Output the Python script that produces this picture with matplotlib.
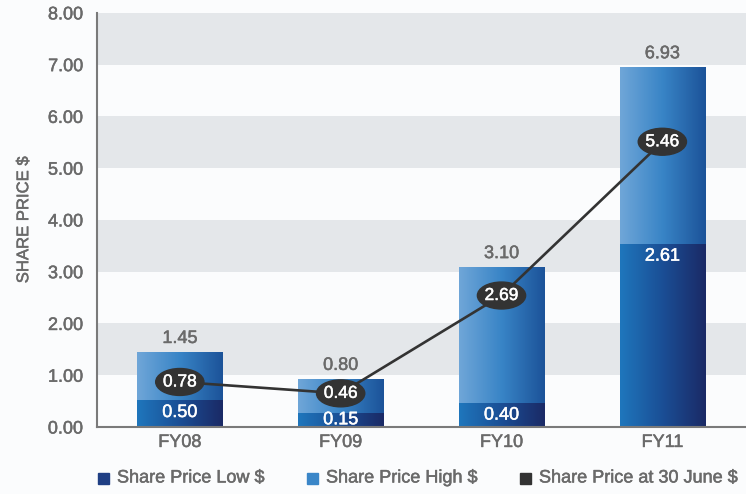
import numpy as np
import matplotlib
matplotlib.use("Agg")
import matplotlib.pyplot as plt
import matplotlib.patheffects as pe
from matplotlib.patches import Ellipse, Rectangle
from matplotlib.colors import LinearSegmentedColormap

plt.rcParams['font.family'] = ['Liberation Sans', 'DejaVu Sans']

# data
years = ["FY08", "FY09", "FY10", "FY11"]
price_low = [0.50, 0.15, 0.40, 2.61]
price_high = [1.45, 0.80, 3.10, 6.93]
price_june = [0.78, 0.46, 2.69, 5.46]
# where the original actually draws things (not quite the labelled values)
low_band = [0.52, 0.28, 0.46, 3.54]
bar_top = [1.45, 0.93, 3.09, 6.95]
june_pos = [0.87, 0.65, 2.54, 5.51]
legend_labels = ["Share Price Low $", "Share Price High $", "Share Price at 30 June $"]

grey_txt = "#6a6a6a"
band_col = "#e4e7ea"


def fx(c):
    # makes the thin text a bit heavier, like the printed original
    return [pe.withStroke(linewidth=0.35, foreground=c)]


fig = plt.figure(figsize=(7.46, 4.94), dpi=100, facecolor="#fbfcfd")
ax = fig.add_axes([0.130, 0.1356, 0.870, 0.8384])
ax.set_facecolor("#fbfcfd")

x = np.arange(len(years))
width = 0.53
ax.set_xlim(-0.515, 3.52)
ax.set_ylim(0, 8)

# alternating grey bands
for lo in [1, 3, 5, 7]:
    ax.axhspan(lo, lo + 1, color=band_col, lw=0, zorder=0)

cm_low = LinearSegmentedColormap.from_list("low", ["#1f76bc", "#1a4e95", "#1b2a66"])
cm_high = LinearSegmentedColormap.from_list("high", ["#6fa6d8", "#3884c6", "#1c5399"])
grad = np.linspace(0, 1, 100).reshape(1, -1)

low_bars = ax.bar(x, low_band, width, color="none", zorder=2)
high_bars = ax.bar(x, np.array(bar_top) - np.array(low_band), width,
                   bottom=low_band, color="none", zorder=2)
for bars, cm in [(low_bars, cm_low), (high_bars, cm_high)]:
    for b in bars:
        x0, y0 = b.get_x(), b.get_y()
        im = ax.imshow(grad, cmap=cm, aspect="auto", zorder=2,
                       extent=[x0, x0 + b.get_width(), y0, y0 + b.get_height()])
        im.set_clip_path(b)

# value labels
for i in range(len(years)):
    ax.text(x[i], bar_top[i] + 0.26, "%.2f" % price_high[i], ha="center",
            va="center", color=grey_txt, fontsize=13, zorder=5, path_effects=fx(grey_txt))
    ly = max(low_band[i] / 2, low_band[i] - 0.24)
    ax.text(x[i], ly, "%.2f" % price_low[i], ha="center", va="center",
            color="white", fontsize=13, zorder=5, path_effects=fx("white"))

# share price at 30 June
ax.plot(x, june_pos, color="#333333", lw=1.9, zorder=3)
for i in range(len(years)):
    ax.add_patch(Ellipse((x[i], june_pos[i]), 0.30, 0.52, color="#333333", zorder=4))
    ax.text(x[i], june_pos[i], "%.2f" % price_june[i], ha="center", va="center",
            color="white", fontsize=12.5, zorder=5, path_effects=fx("white"))

ax.set_xticks(x)
ax.set_xticklabels(years)
ax.set_yticks(np.arange(0, 9, 1))
ax.set_yticklabels(["%.2f" % v for v in np.arange(0, 9, 1)])
ax.tick_params(length=0, labelsize=13, colors=grey_txt)
ax.tick_params(axis="x", pad=5)
ax.tick_params(axis="y", pad=10)
for t in ax.get_xticklabels() + ax.get_yticklabels():
    t.set_path_effects(fx(grey_txt))
ax.set_ylabel("SHARE PRICE $", color=grey_txt, fontsize=12, labelpad=12,
              path_effects=fx(grey_txt))

for s in ["top", "right"]:
    ax.spines[s].set_visible(False)
for s in ["left", "bottom"]:
    ax.spines[s].set_color("#7a7a7a")
    ax.spines[s].set_linewidth(1.5)

# legend along the bottom
leg_cols = ["#1f3f84", "#3a86c8", "#333333"]
leg_x = [98, 307, 520]
for lx, c, lab in zip(leg_x, leg_cols, legend_labels):
    fig.patches.append(Rectangle((lx / 746, (494 - 484) / 494), 11 / 746, 11 / 494,
                                 transform=fig.transFigure, color=c, figure=fig))
    fig.text((lx + 19) / 746, (494 - 478) / 494, lab, ha="left", va="center",
             color=grey_txt, fontsize=13, path_effects=fx(grey_txt))

fig.savefig("out.png", dpi=100, facecolor=fig.get_facecolor())
